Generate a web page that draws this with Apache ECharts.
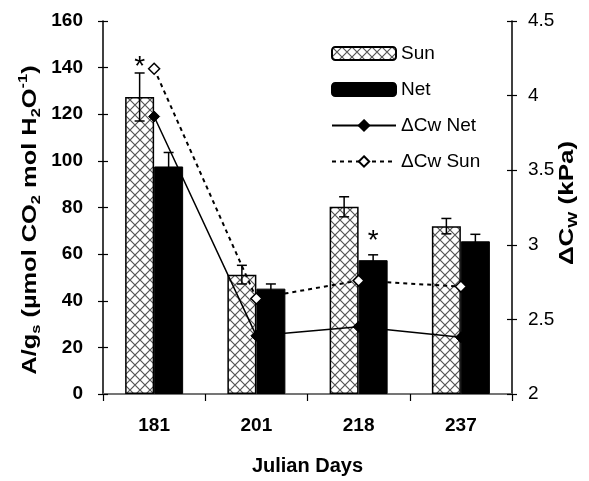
<!DOCTYPE html>
<html>
<head>
<meta charset="utf-8">
<script src="https://cdn.jsdelivr.net/npm/echarts@6/dist/echarts.min.js"></script>
<style>
  html, body { margin: 0; padding: 0; background: #fff; overflow: hidden; width: 589px; height: 481px; }
  #chart { position: absolute; left: 0; top: 0; width: 589px; height: 481px; }
</style>
</head>
<body>
<div id="chart"></div>
<script>
// Julian day of each sampling campaign
const days = ['181', '201', '218', '237'];

// A/gs, µmol CO2 mol H2O-1 (bars) and their standard errors
const sunRatio = [127.4, 51.2, 80.3, 72.0];
const netRatio = [97.6, 45.2, 57.4, 65.5];
const sunErr = [10.3, 4.0, 4.3, 3.3];
const netErr = [6.0, 2.0, 2.3, 3.0];

// ΔCw, kPa (lines, right axis)
const dcwNet = [3.86, 2.39, 2.45, 2.38];
const dcwSun = [4.18, 2.64, 2.76, 2.72];

// Height (left-axis units) of the significance asterisks; null = none
const sunStar = [140, null, null, null];
const netStar = [null, null, 65.5, null];

const FONT = 'Liberation Sans, Arial, sans-serif';
const BAR_W = 29;

// Cross-hatched fill used by the "Sun" bars
function crossHatch() {
  const c = document.createElement('canvas');
  c.width = 10; c.height = 10;
  const g = c.getContext('2d');
  g.fillStyle = '#fff';
  g.fillRect(0, 0, 10, 10);
  g.strokeStyle = '#555';
  g.lineWidth = 1.2;
  g.beginPath();
  g.moveTo(0, 0); g.lineTo(10, 10);
  g.moveTo(10, 0); g.lineTo(0, 10);
  g.stroke();
  return c;
}

// Error bars (+/- SE) with caps, plus optional asterisk above
function errorSeries(name, vals, errs, stars, side) {
  return {
    type: 'custom',
    name: name,
    xAxisIndex: 0,
    yAxisIndex: 0,
    z: 6,
    silent: true,
    data: vals.map((v, i) => [i, v, errs[i], stars[i] == null ? -1 : stars[i]]),
    renderItem: function (params, api) {
      const i = api.value(0), v = api.value(1), e = api.value(2), s = api.value(3);
      const base = api.coord([i, v]);
      const x = base[0] + side * BAR_W / 2;
      const yTop = api.coord([i, v + e])[1];
      const yBot = api.coord([i, v - e])[1];
      const cap = 5;
      const st = { stroke: '#000', lineWidth: 1.5 };
      const children = [
        { type: 'line', shape: { x1: x, y1: yTop, x2: x, y2: yBot }, style: st },
        { type: 'line', shape: { x1: x - cap, y1: yTop, x2: x + cap, y2: yTop }, style: st },
        { type: 'line', shape: { x1: x - cap, y1: yBot, x2: x + cap, y2: yBot }, style: st }
      ];
      if (s >= 0) {
        const ys = api.coord([i, s])[1];
        children.push({
          type: 'text',
          style: {
            x: x, y: ys, text: '*',
            fill: '#000', font: '28px ' + FONT,
            align: 'center', verticalAlign: 'middle'
          }
        });
      }
      return { type: 'group', children: children };
    }
  };
}

const el = document.getElementById('chart');
const chart = echarts.init(el, null, { renderer: 'canvas', width: 589, height: 481 });

const tickLabelBold = { color: '#000', fontFamily: FONT, fontSize: 19, fontWeight: 'bold' };
const blackLine = { show: true, lineStyle: { color: '#000', width: 1.5 } };
const titleFont = 'bold 20px ' + FONT;
const subStyle = { font: 'bold 13px ' + FONT, fill: '#000', verticalAlign: 'bottom', lineHeight: 26 };
const supStyle = { font: 'bold 13px ' + FONT, fill: '#000', verticalAlign: 'top', lineHeight: 26 };

const option = {
  animation: false,
  backgroundColor: '#fff',
  grid: { left: 103, right: 77, top: 21, bottom: 84, containLabel: false },
  legend: {
    orient: 'vertical',
    left: 326,
    top: 39,
    itemWidth: 64,
    itemHeight: 13,
    itemGap: 17,
    textStyle: { color: '#000', fontFamily: FONT, fontSize: 19 },
    data: ['Sun', 'Net', 'ΔCw Net', 'ΔCw Sun']
  },
  graphic: [
    {
      // left axis title, set along the axis
      type: 'text',
      x: 30, y: 220,
      rotation: Math.PI / 2,
      scaleX: 1.27,
      style: {
        text: 'A/g{sub|s} (µmol CO{sub|2} mol H{sub|2}O{sup|-1})',
        font: titleFont, fill: '#000', lineHeight: 26,
        align: 'center', verticalAlign: 'middle',
        rich: { sub: subStyle, sup: supStyle }
      }
    },
    {
      // right axis title
      type: 'text',
      x: 567, y: 203,
      rotation: Math.PI / 2,
      scaleX: 1.3,
      style: {
        text: 'ΔC{sub|W} (kPa)',
        font: titleFont, fill: '#000', lineHeight: 26,
        align: 'center', verticalAlign: 'middle',
        rich: { sub: subStyle }
      }
    }
  ],
  xAxis: [
    {
      type: 'category',
      data: days,
      position: 'bottom',
      axisLine: blackLine,
      axisTick: { show: true, inside: false, length: 7, lineStyle: { color: '#000', width: 1.2 } },
      axisLabel: Object.assign({ margin: 22 }, tickLabelBold),
      name: 'Julian Days',
      nameLocation: 'middle',
      nameGap: 62,
      nameTextStyle: { color: '#000', fontFamily: FONT, fontSize: 20, fontWeight: 'bold' }
    },
    {
      // thin grey frame line along the top of the plot
      type: 'category',
      data: days,
      position: 'top',
      axisLine: { show: true, lineStyle: { color: '#888', width: 1.5 } },
      axisTick: { show: false },
      axisLabel: { show: false }
    }
  ],
  yAxis: [
    {
      type: 'value',
      position: 'left',
      min: 0, max: 160, interval: 20,
      splitLine: { show: false },
      axisLine: blackLine,
      axisTick: { show: true, inside: false, length: 5, lineStyle: { color: '#000', width: 1.2 } },
      axisLabel: Object.assign({ margin: 20 }, tickLabelBold)
    },
    {
      type: 'value',
      position: 'right',
      min: 2, max: 4.5, interval: 0.5,
      splitLine: { show: false },
      axisLine: blackLine,
      axisTick: { show: true, inside: false, length: 5, lineStyle: { color: '#000', width: 1.2 } },
      axisLabel: { margin: 16, color: '#000', fontFamily: FONT, fontSize: 19 }
    },
    {
      // inner half of the left tick marks
      type: 'value', position: 'left', min: 0, max: 160, interval: 20,
      splitLine: { show: false }, axisLine: { show: false }, axisLabel: { show: false },
      axisTick: { show: true, inside: true, length: 5, lineStyle: { color: '#000', width: 1.2 } }
    },
    {
      // inner half of the right tick marks
      type: 'value', position: 'right', min: 2, max: 4.5, interval: 0.5,
      splitLine: { show: false }, axisLine: { show: false }, axisLabel: { show: false },
      axisTick: { show: true, inside: true, length: 5, lineStyle: { color: '#000', width: 1.2 } }
    }
  ],
  series: [
    {
      name: 'Sun',
      type: 'bar',
      xAxisIndex: 0, yAxisIndex: 0,
      barWidth: BAR_W,
      barGap: '0%',
      data: sunRatio,
      itemStyle: { color: { image: crossHatch(), repeat: 'repeat' }, borderColor: '#000', borderWidth: 1.5 }
    },
    {
      name: 'Net',
      type: 'bar',
      xAxisIndex: 0, yAxisIndex: 0,
      barWidth: BAR_W,
      barGap: '0%',
      data: netRatio,
      itemStyle: { color: '#000', borderColor: '#000', borderWidth: 1 }
    },
    errorSeries('sunErr', sunRatio, sunErr, sunStar, -1),
    errorSeries('netErr', netRatio, netErr, netStar, 1),
    {
      name: 'ΔCw Net',
      type: 'line',
      xAxisIndex: 0, yAxisIndex: 1,
      z: 8,
      data: dcwNet,
      symbol: 'diamond',
      symbolSize: 11,
      showAllSymbol: true,
      lineStyle: { color: '#000', width: 1.5, type: 'solid' },
      itemStyle: { color: '#000', borderColor: '#000', borderWidth: 1 }
    },
    {
      name: 'ΔCw Sun',
      type: 'line',
      xAxisIndex: 0, yAxisIndex: 1,
      z: 8,
      data: dcwSun,
      symbol: 'diamond',
      symbolSize: 11,
      showAllSymbol: true,
      lineStyle: { color: '#000', width: 2, type: [4, 4] },
      itemStyle: { color: '#fff', borderColor: '#000', borderWidth: 1.5 }
    }
  ]
};

chart.setOption(option);
</script>
</body>
</html>
